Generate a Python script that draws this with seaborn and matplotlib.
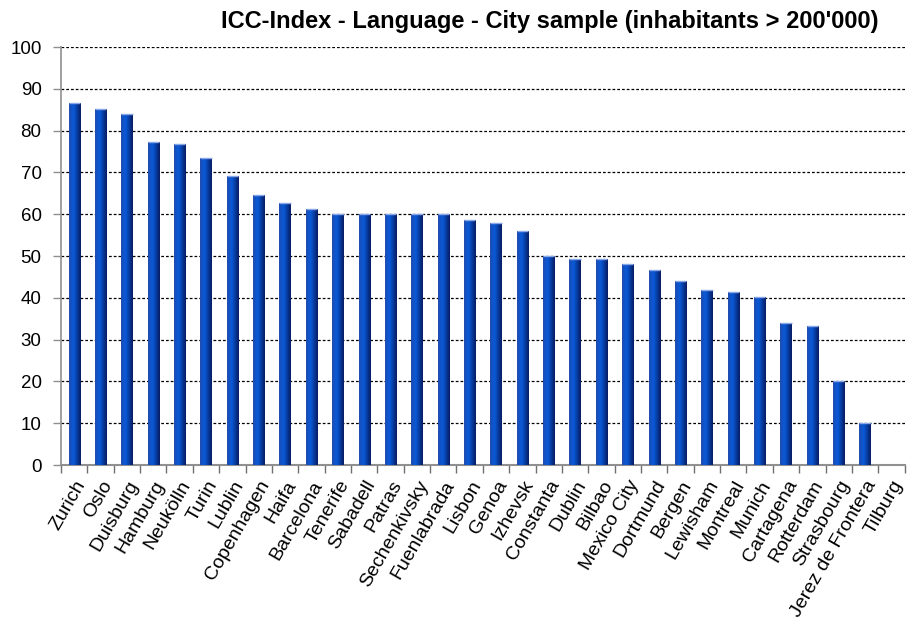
import numpy as np
import pandas as pd
import matplotlib
matplotlib.use("Agg")
import matplotlib.pyplot as plt
from matplotlib.colors import LinearSegmentedColormap
import seaborn as sns

cities = ["Zurich", "Oslo", "Duisburg", "Hamburg", "Neukölln", "Turin", "Lublin",
          "Copenhagen", "Haifa", "Barcelona", "Tenerife", "Sabadell", "Patras",
          "Sechenkivsky", "Fuenlabrada", "Lisbon", "Genoa", "Izhevsk", "Constanta",
          "Dublin", "Bilbao", "Mexico City", "Dortmund", "Bergen", "Lewisham",
          "Montreal", "Munich", "Cartagena", "Rotterdam", "Strasbourg",
          "Jerez de Frontera", "Tilburg"]
scores = [86.7, 85.2, 84.0, 77.2, 76.8, 73.4, 69.2, 64.6, 62.6, 61.2, 60.0, 60.0,
          60.0, 60.0, 60.0, 58.7, 58.0, 56.0, 50.0, 49.2, 49.2, 48.0, 46.6, 44.1,
          41.9, 41.5, 40.1, 33.9, 33.2, 20.1, 10.1, 0.0]
y_ticks = list(range(0, 101, 10))
title = "ICC-Index - Language - City sample (inhabitants > 200'000)"

df = pd.DataFrame({"city": cities, "score": scores})

sns.set_theme(style="white")
plt.rcParams["font.family"] = ["Liberation Sans", "DejaVu Sans"]

fig = plt.figure(figsize=(9.11, 6.22), dpi=100)
ax = fig.add_axes([0.067, 0.2524, 0.926, 0.672])

sns.barplot(data=df, x="city", y="score", order=cities, color="#0a48b8",
            width=0.43, saturation=1, ax=ax, zorder=3)

# Cylinder-like shading across each bar
shade = LinearSegmentedColormap.from_list(
    "bar_shade",
    [(0.0, "#2a4aa8"), (0.12, "#1450c0"), (0.38, "#0a5ad8"),
     (0.65, "#0840a8"), (0.85, "#062a80"), (1.0, "#0a1c60")])
grad = np.linspace(0, 1, 64).reshape(1, -1)
for p in ax.patches:
    x0, y0 = p.get_x(), p.get_y()
    w, h = p.get_width(), p.get_height()
    if h <= 0:
        p.set_visible(False)
        continue
    p.set_edgecolor("none")
    im = ax.imshow(grad, cmap=shade, aspect="auto",
                   extent=[x0, x0 + w, y0, y0 + h], zorder=4,
                   interpolation="bicubic")
    im.set_clip_path(p)
    ax.plot([x0, x0 + w], [y0 + h, y0 + h], color="#8aa8e8", lw=1.0,
            zorder=5, solid_capstyle="butt")

ax.set_xlim(-0.5, len(cities) - 0.5)
ax.set_ylim(0, 100)
ax.set_yticks(y_ticks)
ax.set_yticklabels([str(v) for v in y_ticks], fontsize=13.5, color="black")

for v in y_ticks[1:]:
    ax.axhline(v, color="black", lw=0.9, ls=(0, (2.2, 1.6)), zorder=1)

ax.set_xticks(range(len(cities)))
ax.set_xticklabels(cities, rotation=60, ha="right", rotation_mode="anchor",
                   fontsize=14, color="black")
ax.set_xticks(np.arange(-0.5, len(cities), 1.0), minor=True)
ax.tick_params(axis="x", which="major", length=0, pad=9)
ax.tick_params(axis="x", which="minor", length=6, width=1, color="#707070",
               direction="out", bottom=True)
ax.tick_params(axis="y", which="major", length=6, width=1, color="#909090",
               direction="out", left=True, pad=8)

ax.set_xlabel("")
ax.set_ylabel("")
for side in ("top", "right"):
    ax.spines[side].set_visible(False)
ax.spines["left"].set_color("#909090")
ax.spines["bottom"].set_color("#909090")
ax.spines["left"].set_linewidth(1.2)
ax.spines["bottom"].set_linewidth(1.5)
ax.grid(False)

fig.text(0.603, 0.966, title, ha="center", va="center", fontsize=17,
         fontweight="bold", color="black")

fig.savefig("out.png", dpi=100, facecolor="white")
